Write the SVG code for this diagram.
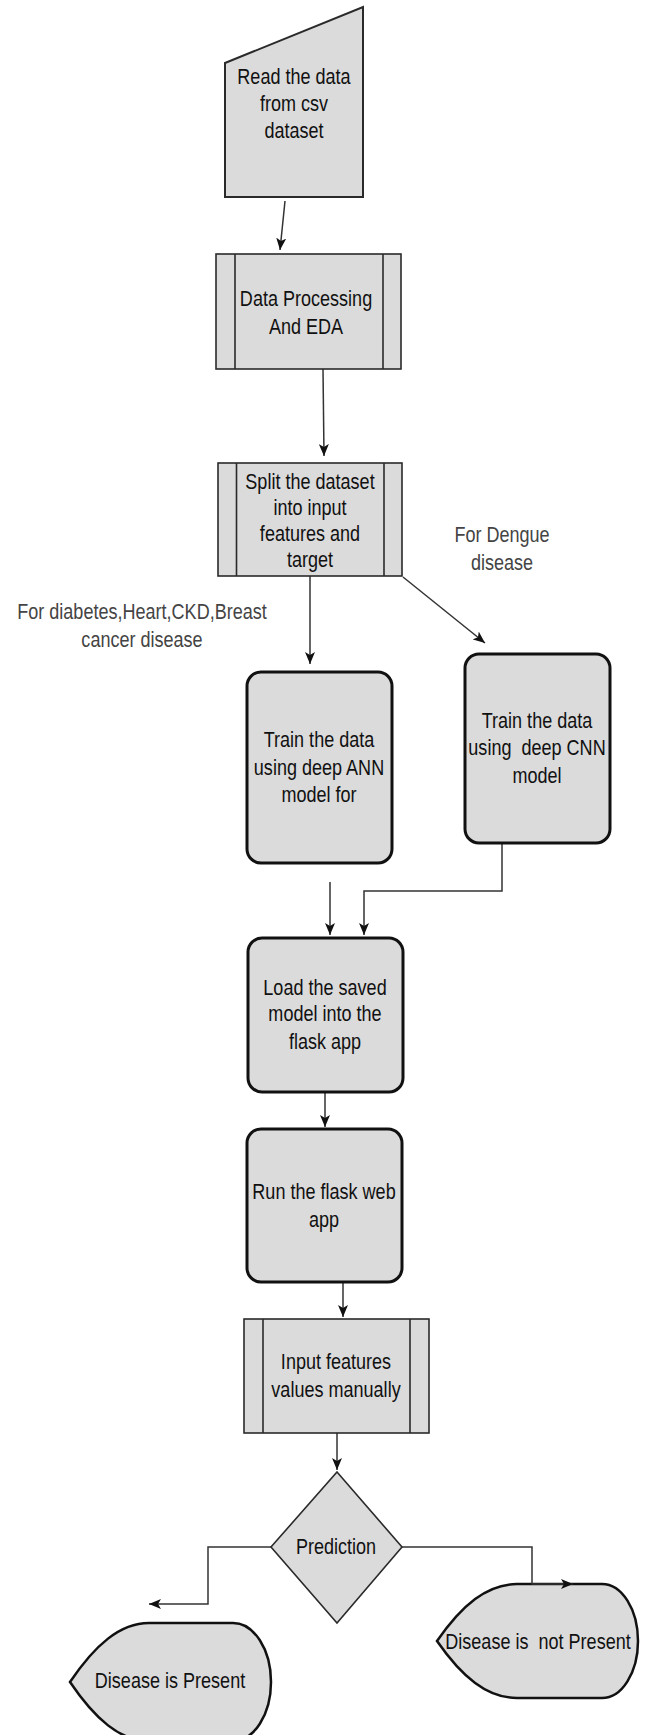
<svg xmlns="http://www.w3.org/2000/svg" width="645" height="1735" viewBox="0 0 645 1735">
<style>
  .bg{fill:#ffffff}
  .box{fill:#dbdbdb;stroke:#2a2a2a;stroke-width:1.6}
  .rbox{fill:#dbdbdb;stroke:#111;stroke-width:3}
  .disp{fill:#dbdbdb;stroke:#111;stroke-width:2.5}
  .inner{stroke:#2a2a2a;stroke-width:1.6;fill:none}
  .t{font-family:"Liberation Sans",Arial,sans-serif;font-size:22px;fill:#111;text-anchor:middle}
  .lbl{font-family:"Liberation Sans",Arial,sans-serif;font-size:22px;fill:#444;text-anchor:middle}
  .c{fill:none;stroke:#333;stroke-width:1.5}
</style>
<defs>
  <marker id="arr" viewBox="0 0 12 10" refX="12" refY="5" markerWidth="12" markerHeight="10" markerUnits="userSpaceOnUse" orient="auto">
    <path d="M0,0 L12,5 L0,10 L3,5 Z" fill="#111"/>
  </marker>
</defs>
<rect class="bg" x="0" y="0" width="645" height="1735"/>

<g id="connectors">
  <path class="c" d="M285,201 L280,250" marker-end="url(#arr)"/>
  <path class="c" d="M323,369 L324,456" marker-end="url(#arr)"/>
  <path class="c" d="M310,576 L310,664" marker-end="url(#arr)"/>
  <path class="c" d="M403,577 L485,643" marker-end="url(#arr)"/>
  <path class="c" d="M330,882 L330,935" marker-end="url(#arr)"/>
  <path class="c" d="M502,843 L502,891 L364,891 L364,935" marker-end="url(#arr)"/>
  <path class="c" d="M325,1092 L325,1127" marker-end="url(#arr)"/>
  <path class="c" d="M343,1282 L343,1317" marker-end="url(#arr)"/>
  <path class="c" d="M337,1433 L337,1470" marker-end="url(#arr)"/>
  <path class="c" d="M271,1547 L208,1547 L208,1604 L149,1604" marker-end="url(#arr)"/>
</g>

<g id="read-data">
  <polygon class="box" points="225,63 363,7 363,197 225,197" style="stroke-width:2"/>
  <text class="t" transform="translate(294,0) scale(0.82 1)"><tspan x="0" y="84">Read the data</tspan><tspan x="0" y="111">from csv</tspan><tspan x="0" y="138">dataset</tspan></text>
</g>

<g id="data-processing">
  <rect class="box" x="216" y="254" width="185" height="115"/>
  <line class="inner" x1="235" y1="254" x2="235" y2="369"/>
  <line class="inner" x1="383" y1="254" x2="383" y2="369"/>
  <text class="t" transform="translate(306,0) scale(0.82 1)"><tspan x="0" y="306">Data Processing</tspan><tspan x="0" y="334">And EDA</tspan></text>
</g>

<g id="split">
  <rect class="box" x="218" y="463" width="184" height="113"/>
  <line class="inner" x1="236.5" y1="463" x2="236.5" y2="576"/>
  <line class="inner" x1="384" y1="463" x2="384" y2="576"/>
  <text class="t" transform="translate(310,0) scale(0.82 1)"><tspan x="0" y="489">Split the dataset</tspan><tspan x="0" y="515">into input</tspan><tspan x="0" y="541">features and</tspan><tspan x="0" y="567">target</tspan></text>
</g>

<g id="label-ann">
  <text class="lbl" transform="translate(142,0) scale(0.82 1)"><tspan x="0" y="619">For diabetes,Heart,CKD,Breast</tspan><tspan x="0" y="647">cancer disease</tspan></text>
</g>

<g id="label-cnn">
  <text class="lbl" transform="translate(502,0) scale(0.82 1)"><tspan x="0" y="542">For Dengue</tspan><tspan x="0" y="570">disease</tspan></text>
</g>

<g id="train-ann">
  <rect class="rbox" x="247" y="672" width="145" height="191" rx="14"/>
  <text class="t" transform="translate(319,0) scale(0.82 1)"><tspan x="0" y="747">Train the data</tspan><tspan x="0" y="775">using deep ANN</tspan><tspan x="0" y="802">model for</tspan></text>
</g>

<g id="train-cnn">
  <rect class="rbox" x="465" y="654" width="145" height="189" rx="14"/>
  <text class="t" transform="translate(537,0) scale(0.82 1)"><tspan x="0" y="728">Train the data</tspan><tspan x="0" y="755" xml:space="preserve">using  deep CNN</tspan><tspan x="0" y="783">model</tspan></text>
</g>

<g id="load-model">
  <rect class="rbox" x="248" y="938" width="155" height="154" rx="14"/>
  <text class="t" transform="translate(325,0) scale(0.82 1)"><tspan x="0" y="995">Load the saved</tspan><tspan x="0" y="1021">model into the</tspan><tspan x="0" y="1049">flask app</tspan></text>
</g>

<g id="run-app">
  <rect class="rbox" x="247" y="1129" width="155" height="153" rx="14"/>
  <text class="t" transform="translate(324,0) scale(0.82 1)"><tspan x="0" y="1199">Run the flask web</tspan><tspan x="0" y="1227">app</tspan></text>
</g>

<g id="input-values">
  <rect class="box" x="244" y="1319" width="185" height="114"/>
  <line class="inner" x1="263" y1="1319" x2="263" y2="1433"/>
  <line class="inner" x1="410" y1="1319" x2="410" y2="1433"/>
  <text class="t" transform="translate(336,0) scale(0.82 1)"><tspan x="0" y="1369">Input features</tspan><tspan x="0" y="1397">values manually</tspan></text>
</g>

<g id="prediction">
  <polygon class="box" points="337,1472 402,1547 337,1623 271,1547"/>
  <text class="t" transform="translate(336,0) scale(0.82 1)"><tspan x="0" y="1554">Prediction</tspan></text>
</g>

<g id="present">
  <path class="disp" d="M70,1682 C95,1645 120,1623 149,1623 L233,1623 A38,59 0 0 1 233,1741 L149,1741 C120,1741 95,1719 70,1682 Z"/>
  <text class="t" transform="translate(170,0) scale(0.82 1)"><tspan x="0" y="1688">Disease is Present</tspan></text>
</g>

<g id="not-present">
  <path class="disp" d="M437,1641 C462,1605 487,1584 517,1584 L602,1584 A36,57 0 0 1 602,1698 L517,1698 C487,1698 462,1677 437,1641 Z"/>
  <text class="t" transform="translate(538,0) scale(0.82 1)" xml:space="preserve"><tspan x="0" y="1649">Disease is  not Present</tspan></text>
</g>

<g id="connectors-top">
  <path class="c" d="M402,1547 L532,1547 L532,1584 L573,1584" marker-end="url(#arr)"/>
</g>
</svg>
